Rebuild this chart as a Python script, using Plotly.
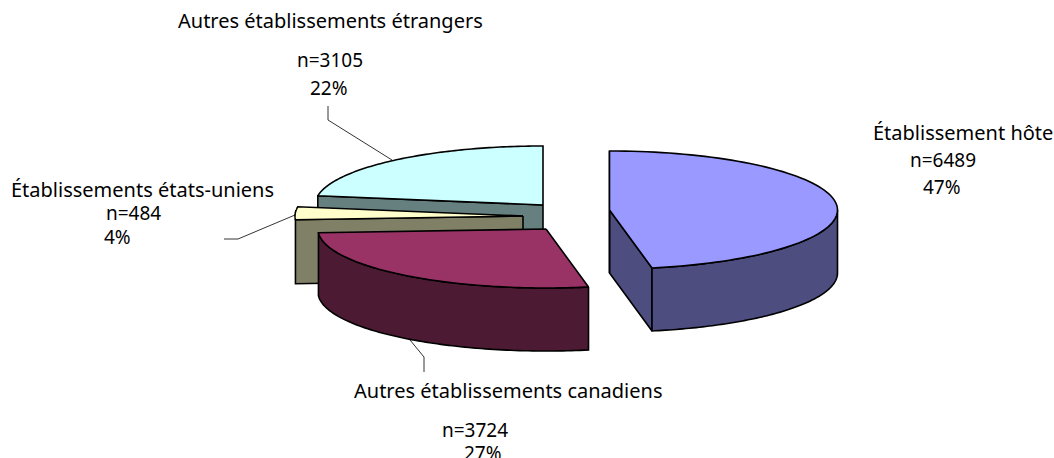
import numpy as np
import plotly.graph_objects as go

categories = ["Établissement hôte", "Autres établissements canadiens",
              "Établissements états-uniens", "Autres établissements étrangers"]
counts = [6489, 3724, 484, 3105]
percents = [47, 27, 4, 22]

top_colors = ["#9999FF", "#993366", "#FFFFCC", "#CCFFFF"]
wall_colors = ["#4D4D80", "#4D1A33", "#808066", "#668080"]
centers = [(609.5, 210), (546, 229), (523, 216), (543, 205)]
depths = [63, 63, 64, 63]
RX, RY = 228, 59
FONT = "Noto Sans"
FS_NAME = 20
FS_NUM = 19

total = sum(counts)
edges = np.concatenate([[0], np.cumsum(counts)]) / total * 360


def rim(c, a0, a1, n=90):
    t = np.radians(np.linspace(a0, a1, n))
    return c[0] + RX * np.sin(t), c[1] - RY * np.cos(t)


def poly(fig, xs, ys, color):
    fig.add_trace(go.Scatter(x=list(xs) + [xs[0]], y=list(ys) + [ys[0]], mode="lines",
                             fill="toself", fillcolor=color,
                             line=dict(color="black", width=1.6, simplify=False),
                             hoverinfo="skip", showlegend=False))


def cut_wall(fig, i, angle):
    c, d = centers[i], depths[i]
    px, py = rim(c, angle, angle, 1)
    poly(fig, [c[0], px[0], px[0], c[0]], [c[1], py[0], py[0] + d, c[1] + d], wall_colors[i])


def outer_wall(fig, i, a0, a1):
    x, y = rim(centers[i], a0, a1)
    poly(fig, np.r_[x, x[::-1]], np.r_[y, y[::-1] + depths[i]], wall_colors[i])


def top(fig, i):
    c = centers[i]
    x, y = rim(c, edges[i], edges[i + 1])
    poly(fig, np.r_[c[0], x], np.r_[c[1], y], top_colors[i])


fig = go.Figure()
# painter's order: back slices first
cut_wall(fig, 3, edges[3])
top(fig, 3)
cut_wall(fig, 2, edges[2])
top(fig, 2)
outer_wall(fig, 1, edges[1], edges[2])
top(fig, 1)
cut_wall(fig, 0, edges[1])
cut_wall(fig, 0, edges[0])
outer_wall(fig, 0, 90, edges[1])
top(fig, 0)

# leader lines
leaders = [([328, 328, 392], [106, 120, 160]),
           ([224, 238, 295], [239, 239, 215]),
           ([410, 424, 424], [340, 357, 372])]
for lx, ly in leaders:
    fig.add_trace(go.Scatter(x=lx, y=ly, mode="lines", line=dict(color="black", width=0.8),
                             hoverinfo="skip", showlegend=False))

# labels: name x, y; n x, y; pct x, y
label_pos = [(963, 132, 943, 160, 942, 187),
             (508, 390, 475, 430, 483, 453),
             (142, 189, 133, 213, 117, 237),
             (330, 20, 330, 60, 329, 88)]
for i, (nx, ny, cx_, cy_, px, py) in enumerate(label_pos):
    for tx, ty, s, fs in [(nx, ny, categories[i], FS_NAME),
                          (cx_, cy_, f"n={counts[i]}", FS_NUM),
                          (px, py, f"{percents[i]}%", FS_NUM)]:
        fig.add_annotation(x=tx, y=ty, text=s, showarrow=False, xanchor="center", yanchor="middle",
                           font=dict(family=FONT, size=fs, color="black"))

fig.update_layout(width=1054, height=458, margin=dict(l=0, r=0, t=0, b=0),
                  paper_bgcolor="white", plot_bgcolor="white",
                  xaxis=dict(range=[0, 1054], visible=False, fixedrange=True),
                  yaxis=dict(range=[458, 0], visible=False, fixedrange=True))
fig.write_html("out.html", config={"displayModeBar": False},
               post_script="document.body.style.margin='0';document.body.style.overflow='hidden';")
